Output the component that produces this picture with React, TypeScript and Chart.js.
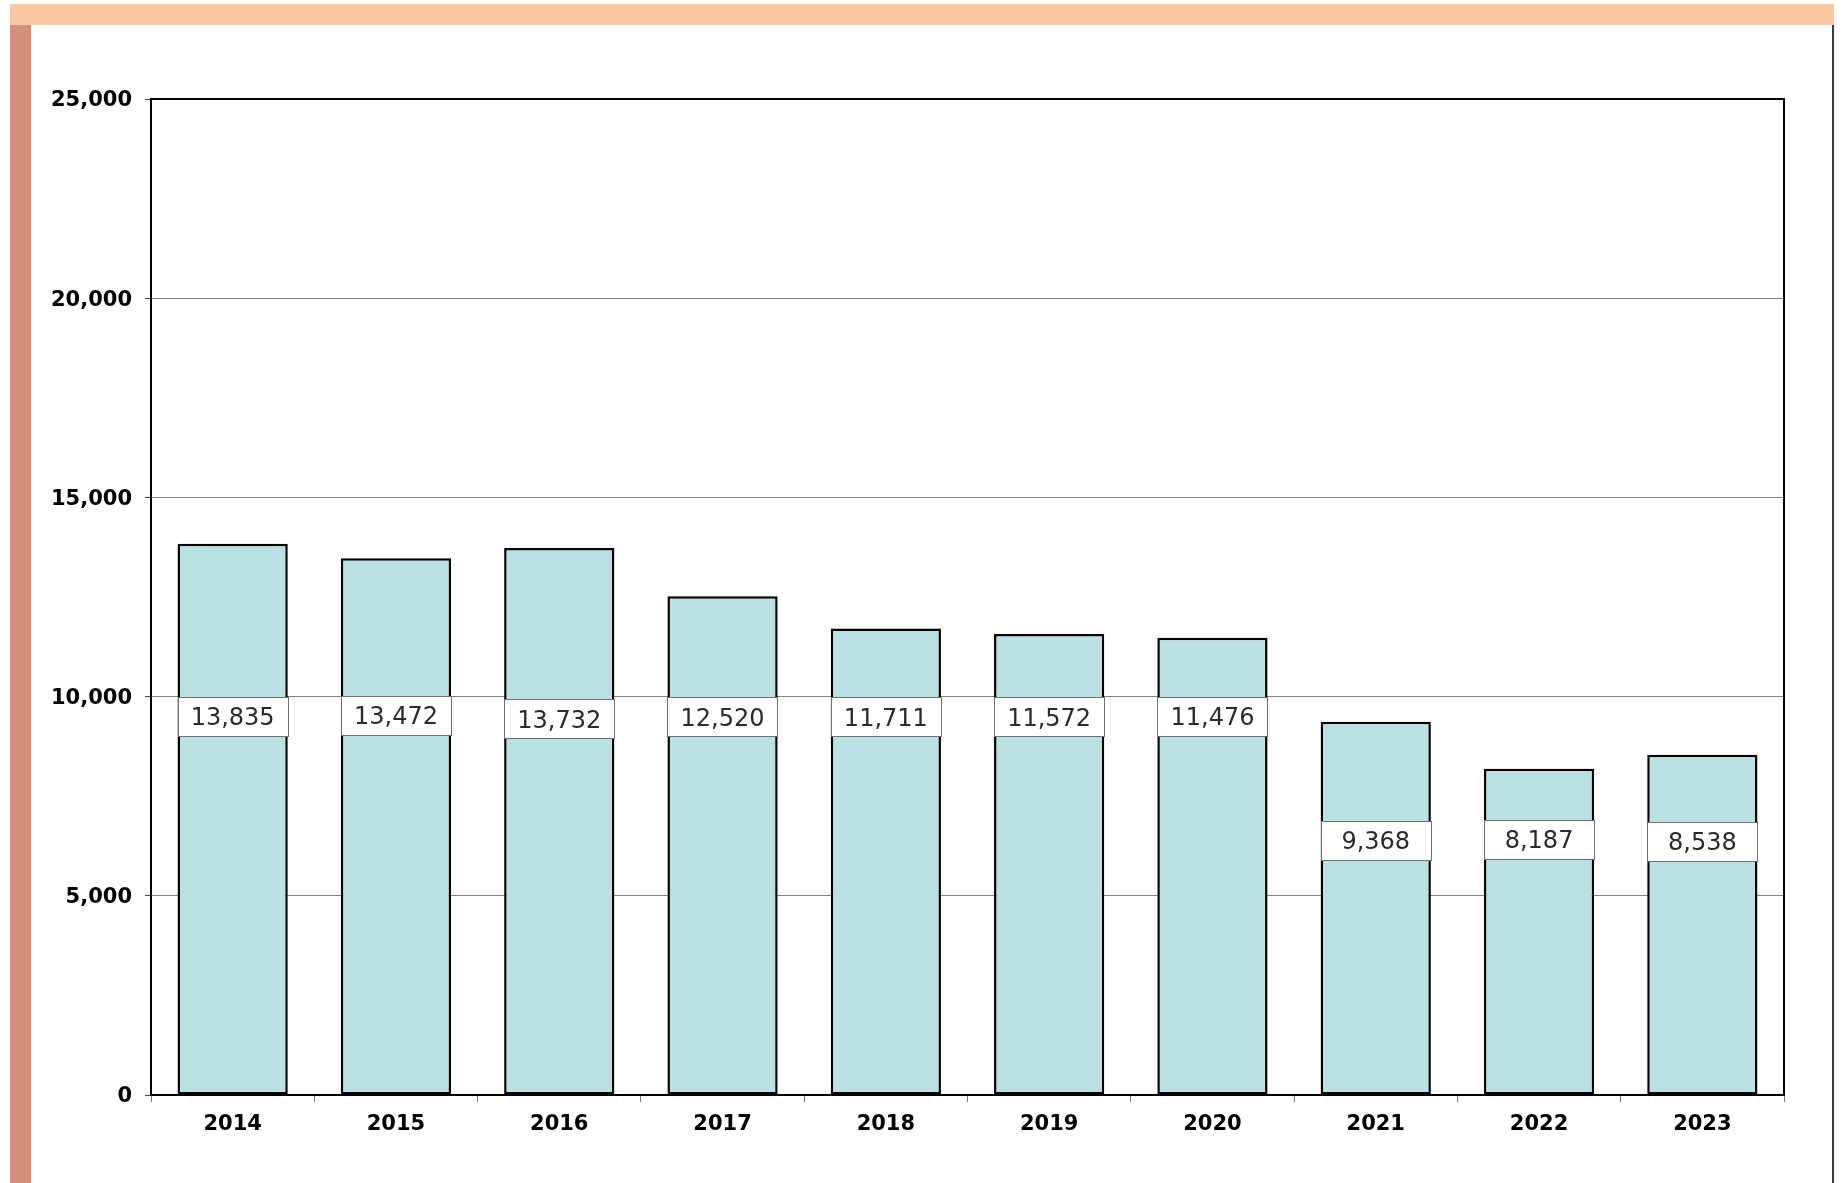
import React, { useEffect, useRef } from "react";
import { Chart, registerables } from "chart.js";

Chart.register(...registerables);

const years = ["2014", "2015", "2016", "2017", "2018", "2019", "2020", "2021", "2022", "2023"];
const values = [13835, 13472, 13732, 12520, 11711, 11572, 11476, 9368, 8187, 8538];
// value at which each data label box is centred
const labelAnchors = [9510, 9520, 9440, 9490, 9490, 9490, 9500, 6400, 6425, 6375];
const yTicks = [0, 5000, 10000, 15000, 20000, 25000];

const W = 1845;
const H = 1183;

const decorPlugin = {
  id: "decor",
  beforeDraw(chart: any) {
    const ctx = chart.ctx;
    ctx.save();
    ctx.fillStyle = "#ffffff";
    ctx.fillRect(0, 0, W, H);
    ctx.fillStyle = "#FBC8A4";
    ctx.fillRect(10, 4, 1824, 21);
    ctx.fillStyle = "#D2917A";
    ctx.fillRect(10, 25, 21, H - 25);
    ctx.fillStyle = "#3a3a3a";
    ctx.fillRect(1832, 25, 2, H - 25);
    ctx.restore();
  },
  afterDatasetsDraw(chart: any) {
    const ctx = chart.ctx;
    const a = chart.chartArea;
    const meta = chart.getDatasetMeta(0);
    const yScale = chart.scales.y;
    ctx.save();
    // data labels
    ctx.font = "24px 'DejaVu Sans'";
    ctx.textAlign = "center";
    ctx.textBaseline = "middle";
    meta.data.forEach((bar: any, i: number) => {
      const half = bar.width / 2;
      const cy = yScale.getPixelForValue(labelAnchors[i]);
      const bh = 39;
      const x0 = Math.round(bar.x - half) + 0.5;
      const y0 = Math.round(cy - bh / 2) + 0.5;
      ctx.fillStyle = "#ffffff";
      ctx.fillRect(x0, y0, Math.round(bar.width), bh);
      ctx.strokeStyle = "#6f6f6f";
      ctx.lineWidth = 1;
      ctx.strokeRect(x0, y0, Math.round(bar.width), bh);
      ctx.fillStyle = "#2b2b2b";
      ctx.fillText(values[i].toLocaleString("en-US"), bar.x, cy + 2.5);
    });
    // plot border
    ctx.strokeStyle = "#000000";
    ctx.lineWidth = 2;
    ctx.strokeRect(a.left, a.top, a.right - a.left, a.bottom - a.top);
    ctx.restore();
  },
};

export default function App() {
  const ref = useRef<HTMLCanvasElement | null>(null);
  useEffect(() => {
    if (!ref.current) return;
    const chart = new Chart(ref.current, {
      type: "bar",
      data: {
        labels: years,
        datasets: [
          {
            data: values,
            backgroundColor: "#BBE0E3",
            borderColor: "#000000",
            borderWidth: 2.5,
            borderSkipped: false,
            barPercentage: 0.675,
            categoryPercentage: 1,
          },
        ],
      },
      options: {
        responsive: false,
        animation: false,
        devicePixelRatio: 1,
        layout: { padding: { left: 1, top: 99, right: 61, bottom: 0 } },
        plugins: {
          legend: { display: false },
          tooltip: { enabled: false },
        },
        scales: {
          x: {
            afterFit: (s: any) => {
              s.height = H - 1095;
            },
            grid: {
              drawOnChartArea: false,
              drawTicks: true,
              tickLength: 7,
              offset: true,
              color: "#777777",
              tickColor: "#777777",
            },
            border: { display: false },
            ticks: {
              color: "#000000",
              padding: 10,
              font: { family: "'DejaVu Sans'", size: 21, weight: "bold" },
            },
          },
          y: {
            min: 0,
            max: 25000,
            afterFit: (s: any) => {
              s.width = 150;
            },
            afterBuildTicks: (s: any) => {
              s.ticks = yTicks.map((v) => ({ value: v }));
            },
            grid: {
              color: "#808080",
              lineWidth: 1,
              tickLength: 6,
              tickColor: "#444444",
            },
            border: { display: false },
            ticks: {
              color: "#000000",
              padding: 13,
              labelOffset: 2,
              font: { family: "'DejaVu Sans'", size: 21, weight: "bold" },
              callback: (v: any) => Number(v).toLocaleString("en-US"),
            },
          },
        },
      },
      plugins: [decorPlugin],
    });
    return () => chart.destroy();
  }, []);
  return (
    <div style={{ position: "absolute", left: 0, top: 0, width: W, height: H }}>
      <canvas ref={ref} width={W} height={H} style={{ width: W, height: H, display: "block" }} />
    </div>
  );
}
